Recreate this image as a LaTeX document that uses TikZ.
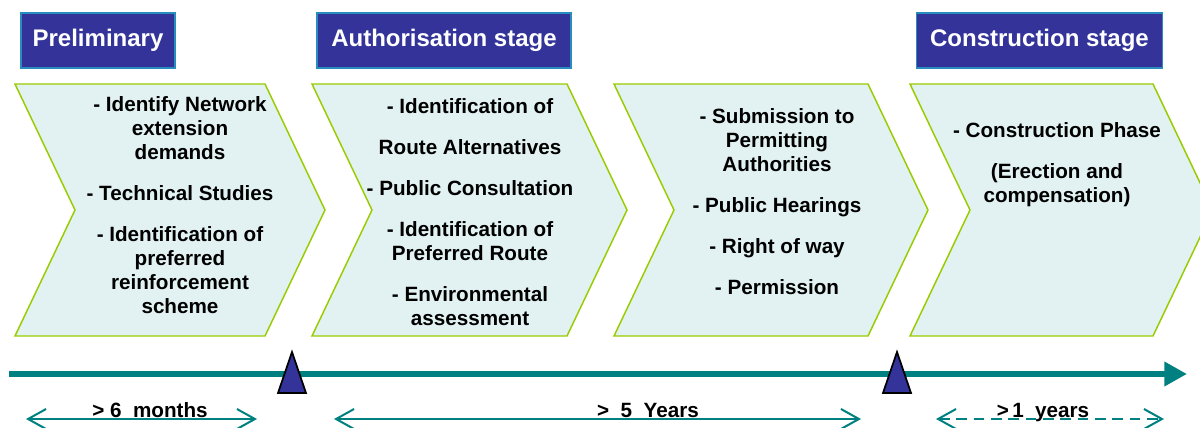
\documentclass[tikz,border=0pt]{standalone}
\usepackage{fontspec}
\setmainfont{Liberation Sans}
\usetikzlibrary{arrows.meta,positioning}
\definecolor{stageblue}{RGB}{51,51,153}
\definecolor{stageedge}{RGB}{40,140,190}
\definecolor{chevfill}{RGB}{226,242,242}
\definecolor{chevedge}{RGB}{153,204,0}
\definecolor{timeteal}{RGB}{0,128,128}

\begin{document}
\begin{tikzpicture}[
    x=0.75pt, y=-0.75pt,
    font=\bfseries\fontsize{15.5}{18}\selectfont,
    stage/.style={draw=stageedge, fill=stageblue, text=white, line width=0.8pt,
      font=\bfseries\fontsize{18}{20}\selectfont, minimum height=41.25pt,
      inner sep=0pt},
    chev/.style={draw=chevedge, fill=chevfill, line width=1.1pt},
    steps/.style={align=center, inner sep=0pt},
    timeline/.style={draw=timeteal, line width=4.9pt,
      -{Triangle[length=17pt, width=17.5pt]}},
    milestone/.style={draw=black, fill=stageblue, line width=1.3pt,
      line join=miter},
    span/.style={draw=timeteal, line width=1.5pt,
      {Straight Barb[length=13.5pt, width=15pt]}-{Straight Barb[length=13.5pt, width=15pt]}},
    spanlabel/.style={anchor=base, inner sep=0pt},
  ]
    \useasboundingbox (0,0) rectangle (1200,428);

    % stage titles
    \node[stage, minimum width=115.5pt] (prelim) at (98,40.5) {Preliminary};
    \node[stage, minimum width=190.5pt] (auth) at (444,40.5) {Authorisation stage};
    \node[stage, minimum width=185pt] (constr) at (1039.5,40.5) {Construction stage};

    % chevrons
    \foreach \x/\w in {15/250, 312/255, 614/254, 910/243}
      \draw[chev] (\x,84) -- ++(\w,0) -- ++(60,126) -- ++(-60,126)
        -- ++(-\w,0) -- ++(60,-126) -- cycle;

    \node[steps] (prelimtxt) at (180,205)
      {- Identify Network\\extension\\demands\\[12.75pt]
       - Technical Studies\\[12.75pt]
       - Identification of\\preferred\\reinforcement\\scheme};
    \node[steps] (routetxt) at (470,212)
      {- Identification of\\[12.75pt]Route Alternatives\\[12.75pt]
       - Public Consultation\\[12.75pt]
       - Identification of\\Preferred Route\\[12.75pt]
       - Environmental\\assessment};
    \node[steps] (permittxt) at (777,202)
      {- Submission to\\Permitting\\Authorities\\[12.75pt]
       - Public Hearings\\[12.75pt]
       - Right of way\\[12.75pt]
       - Permission};
    \node[steps] (constrtxt) at (1057,165)
      {- Construction Phase\\[12.75pt]
       (Erection and\\compensation)};

    % time line
    \coordinate (tstart) at (9,374);
    \coordinate (tend) at (1187,374);
    \draw[timeline] (tstart) -- (tend);
    \foreach \x in {292, 897}
      \draw[milestone] (\x,352) -- (\x+14,393) -- (\x-14,393) -- cycle;

    % durations
    \coordinate (s1a) at (26,419);
    \coordinate (s1b) at (257,419);
    \coordinate (s2a) at (334,419);
    \coordinate (s2b) at (861,419);
    \coordinate (s3a) at (936,419);
    \coordinate (s3b) at (1164,419);
    \draw[span] (s1a) -- (s1b);
    \draw[span] (s2a) -- (s2b);
    \draw[span, dashed, dash pattern=on 8pt off 5pt] (s3a) -- (s3b);
    \node[spanlabel] (dur1) at (150,417) {>\ 6\ \ months};
    \node[spanlabel] (dur2) at (648,417) {>\ \ 5\ \ Years};
    \node[spanlabel] (dur3) at (1043,417) {>\,1\ \ years};
\end{tikzpicture}
\end{document}
